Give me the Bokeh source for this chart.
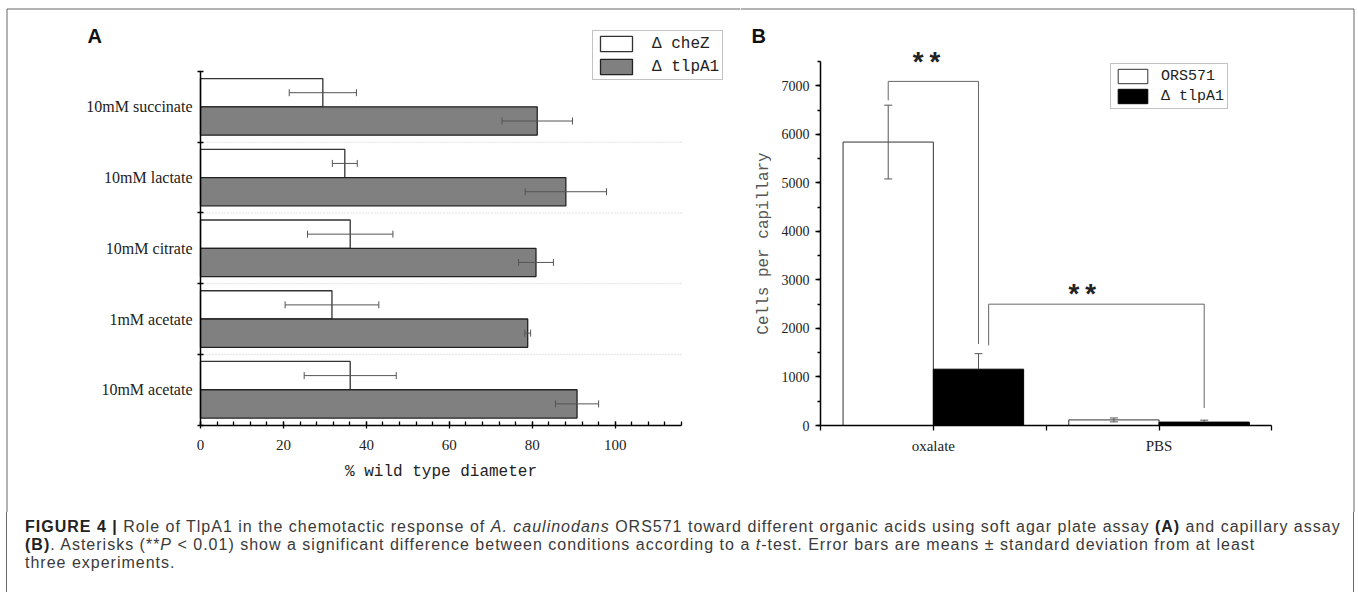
import numpy as np
from bokeh.plotting import figure
from bokeh.models import (ColumnDataSource, Whisker, TeeHead, FixedTicker, SingleIntervalTicker,
                          Legend, LegendItem, Label, Div, Range1d, Span)
from bokeh.layouts import column, row
from bokeh.embed import file_html
from bokeh.resources import INLINE

# ---------------- Panel A data (soft agar plate assay) ----------------
cats_a = ["10mM succinate", "10mM lactate", "10mM citrate", "1mM acetate", "10mM acetate"]
chez = [29.5, 34.8, 36.1, 31.7, 36.1]
chez_sd = [8.1, 3.0, 10.3, 11.3, 11.1]
tlpa1_a = [81.2, 88.1, 80.9, 78.9, 90.8]
tlpa1_a_sd = [8.5, 9.8, 4.2, 0.7, 5.2]
series_a = ["\u0394 cheZ", "\u0394 tlpA1"]
xmax_a = 116

# ---------------- Panel B data (capillary assay) ----------------
cats_b = ["oxalate", "PBS"]
ors571 = [5840, 115]
ors571_sd = [760, 40]
tlpa1_b = [1160, 70]
tlpa1_b_sd = [320, 40]
series_b = ["ORS571", "\u0394 tlpA1"]
ymax_b = 7500

SERIF = "Liberation Serif"
MONO = "Liberation Mono"
EB = "#555555"
FRAME = "#666666"

# panel geometry (pixels) used to set up the data ranges
H = 512                      # figure height
WA, WB = 740, 615            # figure widths
A_X0, A_PXU = 200, 4.147     # pixel of x=0, px per unit (panel A)
A_Y0, A_PYU = 424.6, 70.72   # pixel of y=0, px per unit
B_X0, B_PXU = 80, 225.7      # within panel B
B_Y0, B_PYU = 425, 0.048533

# =============================== Panel A ===============================
n = len(cats_a)
centers = [n - 1 - i + 0.5 for i in range(n)]
srcA = ColumnDataSource(dict(
    yc=[c + 0.2 for c in centers], yt=[c - 0.2 for c in centers],
    chez=chez, chez_lo=[v - s for v, s in zip(chez, chez_sd)], chez_hi=[v + s for v, s in zip(chez, chez_sd)],
    tl=tlpa1_a, tl_lo=[v - s for v, s in zip(tlpa1_a, tlpa1_a_sd)], tl_hi=[v + s for v, s in zip(tlpa1_a, tlpa1_a_sd)],
))

axA_x = (-A_X0 / A_PXU, (WA - A_X0) / A_PXU)
axA_y = (-(H - A_Y0) / A_PYU, A_Y0 / A_PYU)
pA = figure(width=WA, height=H, x_range=Range1d(*axA_x), y_range=Range1d(*axA_y),
            output_backend="svg", toolbar_location=None,
            min_border_left=0, min_border_right=0, min_border_top=0, min_border_bottom=0)
pA.outline_line_color = None
pA.grid.visible = False

# dotted separators between the categories
seps = list(range(1, n))
pA.segment(x0=[0] * len(seps), x1=[xmax_a] * len(seps), y0=seps, y1=seps,
           line_color="#c4c4c4", line_dash="1 2", line_width=1)

rwA = pA.hbar(y="yc", left=0, right="chez", height=0.4, fill_color="white",
              line_color="#333333", line_width=1.3, source=srcA)
rgA = pA.hbar(y="yt", left=0, right="tl", height=0.4, fill_color="#808080",
              line_color="#222222", line_width=1.3, source=srcA)

for base, lo, hi in (("yc", "chez_lo", "chez_hi"), ("yt", "tl_lo", "tl_hi")):
    pA.add_layout(Whisker(source=srcA, base=base, lower=lo, upper=hi, dimension="width",
                          line_color=EB, line_width=1, level="annotation",
                          lower_head=TeeHead(size=7, line_color=EB, line_width=1),
                          upper_head=TeeHead(size=7, line_color=EB, line_width=1)))

xa = pA.xaxis[0]
xa.fixed_location = 0
xa.bounds = (0, xmax_a)
xa.ticker = SingleIntervalTicker(interval=20, num_minor_ticks=5)
xa.axis_line_width = 1.5
xa.major_tick_in = 4
xa.major_tick_out = 3
xa.minor_tick_in = 4
xa.minor_tick_out = 0
xa.major_tick_line_width = 1.3
xa.minor_tick_line_width = 1.3
xa.major_label_text_font = SERIF
xa.major_label_text_font_size = "15px"
xa.major_label_text_color = "#222222"
xa.major_label_standoff = 12
xa.axis_label = "% wild type diameter"
xa.axis_label_text_font = MONO
xa.axis_label_text_font_size = "16px"
xa.axis_label_text_font_style = "normal"
xa.axis_label_text_color = "#222222"
xa.axis_label_standoff = 9

ya = pA.yaxis[0]
ya.fixed_location = 0
ya.bounds = (0, n)
ya.ticker = FixedTicker(ticks=centers, minor_ticks=list(range(n + 1)))
ya.major_label_overrides = {c: name for c, name in zip(centers, cats_a)}
ya.axis_line_width = 1.5
ya.major_tick_in = 0
ya.major_tick_out = 0
ya.minor_tick_in = 3
ya.minor_tick_out = 3
ya.minor_tick_line_width = 1.5
ya.major_label_text_font = SERIF
ya.major_label_text_font_size = "16px"
ya.major_label_text_color = "#222222"
ya.major_label_standoff = 5

# legend: location = offset of its bottom-left corner from the frame's bottom-left
legA = Legend(items=[LegendItem(label=series_a[0], renderers=[rwA]),
                     LegendItem(label=series_a[1], renderers=[rgA])],
              location=(592, H - 80), orientation="vertical",
              glyph_width=40, glyph_height=19, label_height=19, spacing=4, padding=3,
              margin=0, label_standoff=16, border_line_color="#888888", border_line_width=1,
              label_text_font=MONO, label_text_font_size="16px", label_text_color="#222222",
              background_fill_color="white", background_fill_alpha=1)
pA.add_layout(legA)

pA.add_layout(Label(x=(87 - A_X0) / A_PXU, y=(A_Y0 - 35) / A_PYU, text="A",
                    text_font="Liberation Sans", text_font_style="bold",
                    text_font_size="20px", text_align="left", text_baseline="alphabetic",
                    text_color="#111111"))

# figure frame: top edge (from the left edge on) and left edge
top_a = (A_Y0 - 8.5) / A_PYU
left_a = (6.5 - A_X0) / A_PXU
pA.segment(x0=[left_a], x1=[axA_x[1]], y0=[top_a], y1=[top_a], line_color=FRAME, line_width=1)
pA.segment(x0=[left_a], x1=[left_a], y0=[axA_y[0]], y1=[top_a], line_color=FRAME, line_width=1)

# =============================== Panel B ===============================
m = len(cats_b)
xcent = [j + 0.5 for j in range(m)]
srcB = ColumnDataSource(dict(
    xo=[x - 0.2 for x in xcent], xt=[x + 0.2 for x in xcent],
    ors=ors571, ors_lo=[v - s for v, s in zip(ors571, ors571_sd)], ors_hi=[v + s for v, s in zip(ors571, ors571_sd)],
    tl=tlpa1_b, tl_hi=[v + s for v, s in zip(tlpa1_b, tlpa1_b_sd)],
))

axB_x = (-B_X0 / B_PXU, (WB - B_X0) / B_PXU)
axB_y = (-(H - B_Y0) / B_PYU, B_Y0 / B_PYU)
pB = figure(width=WB, height=H, x_range=Range1d(*axB_x), y_range=Range1d(*axB_y),
            output_backend="svg", toolbar_location=None,
            min_border_left=0, min_border_right=0, min_border_top=0, min_border_bottom=0)
pB.outline_line_color = None
pB.grid.visible = False

rwB = pB.vbar(x="xo", bottom=0, top="ors", width=0.4, fill_color="white",
              line_color="#333333", line_width=1, source=srcB)
rbB = pB.vbar(x="xt", bottom=0, top="tl", width=0.4, fill_color="black",
              line_color="black", line_width=1, source=srcB)

pB.add_layout(Whisker(source=srcB, base="xo", lower="ors_lo", upper="ors_hi", dimension="height",
                      line_color=EB, line_width=1, level="annotation",
                      lower_head=TeeHead(size=8, line_color=EB, line_width=1),
                      upper_head=TeeHead(size=8, line_color=EB, line_width=1)))
pB.add_layout(Whisker(source=srcB, base="xt", lower="tl", upper="tl_hi", dimension="height",
                      line_color=EB, line_width=1, level="annotation",
                      lower_head=None,
                      upper_head=TeeHead(size=8, line_color=EB, line_width=1)))

# significance brackets (anchored on the bars they compare)
xo, xt = srcB.data["xo"], srcB.data["xt"]
ors_hi, tl_hi = srcB.data["ors_hi"], srcB.data["tl_hi"]
br_xs = [[xo[0], xo[0], xt[0], xt[0]],
         [xt[0] + 0.045, xt[0] + 0.045, xt[1], xt[1]]]
br_ys = [[ors_hi[0] + 100, 7090, 7090, tl_hi[0] + 200],
         [tl_hi[0] + 170, 2500, 2500, tl_hi[1] + 250]]
pB.multi_line(xs=br_xs, ys=br_ys, line_color="#666666", line_width=1)

for sx, sy in ((0.47, 7436), (1.16, 2666)):
    pB.add_layout(Label(x=sx, y=sy, text="**", text_font=MONO, text_font_size="28px",
                        text_font_style="bold", text_align="center", text_baseline="middle",
                        text_color="#222222"))

xb = pB.xaxis[0]
xb.fixed_location = 0
xb.bounds = (0, m)
xb.ticker = FixedTicker(ticks=xcent, minor_ticks=list(range(m + 1)))
xb.major_label_overrides = {c: name for c, name in zip(xcent, cats_b)}
xb.axis_line_width = 1.5
xb.major_tick_in = 0
xb.major_tick_out = 5
xb.minor_tick_in = 0
xb.minor_tick_out = 5
xb.major_tick_line_width = 1.3
xb.minor_tick_line_width = 1.3
xb.major_label_text_font = SERIF
xb.major_label_text_font_size = "15px"
xb.major_label_text_color = "#222222"
xb.major_label_standoff = 7

yb = pB.yaxis[0]
yb.fixed_location = 0
yb.bounds = (0, ymax_b)
yb.ticker = SingleIntervalTicker(interval=1000, num_minor_ticks=2)
yb.axis_line_width = 1.5
yb.major_tick_in = 0
yb.major_tick_out = 5
yb.minor_tick_in = 0
yb.minor_tick_out = 3
yb.major_tick_line_width = 1.3
yb.minor_tick_line_width = 1.3
yb.major_label_text_font = SERIF
yb.major_label_text_font_size = "14px"
yb.major_label_text_color = "#222222"
yb.major_label_standoff = 6
yb.axis_label = "Cells per capillary"
yb.axis_label_text_font = MONO
yb.axis_label_text_font_size = "16px"
yb.axis_label_text_font_style = "normal"
yb.axis_label_text_color = "#555555"
yb.axis_label_standoff = 6

legB = Legend(items=[LegendItem(label=series_b[0], renderers=[rwB]),
                     LegendItem(label=series_b[1], renderers=[rbB])],
              location=(370, H - 109), orientation="vertical",
              glyph_width=37, glyph_height=18, label_height=18, spacing=2, padding=3,
              margin=0, label_standoff=10, border_line_color="#888888", border_line_width=1,
              label_text_font=MONO, label_text_font_size="15px", label_text_color="#222222",
              background_fill_color="white", background_fill_alpha=1)
pB.add_layout(legB)

pB.add_layout(Label(x=(751 - WA - B_X0) / B_PXU, y=(B_Y0 - 35) / B_PYU, text="B",
                    text_font="Liberation Sans", text_font_style="bold",
                    text_font_size="20px", text_align="left", text_baseline="alphabetic",
                    text_color="#111111"))

# figure frame: top edge and right edge
top_b = (B_Y0 - 8.5) / B_PYU
right_b = (1353.5 - WA - B_X0) / B_PXU
pB.segment(x0=[axB_x[0]], x1=[right_b], y0=[top_b], y1=[top_b], line_color=FRAME, line_width=1)
pB.segment(x0=[right_b], x1=[right_b], y0=[axB_y[0]], y1=[top_b], line_color=FRAME, line_width=1)

# =============================== Caption ===============================
caption_html = (
    '<div style="box-sizing:border-box;margin-left:6px;width:1348px;height:80px;'
    'border-left:1px solid %s;border-right:1px solid %s;'
    'font-family:\'Liberation Sans\',Arial,sans-serif;font-size:16px;line-height:18px;'
    'letter-spacing:1px;color:#3a3a3a;padding-left:18px;padding-top:6px;white-space:nowrap;">'
    '<b style="color:#222">FIGURE 4 |</b> Role of TlpA1 in the chemotactic response of '
    '<i>A. caulinodans</i> ORS571 toward different organic acids using soft agar plate assay '
    '<b style="color:#222">(A)</b> and capillary assay<br>'
    '<b style="color:#222">(B)</b>. Asterisks (**<i>P</i> &lt; 0.01) show a significant difference '
    'between conditions according to a <i>t</i>-test. Error bars are means \u00b1 standard deviation '
    'from at least<br>three experiments.</div>'
) % (FRAME, FRAME)
cap = Div(text=caption_html, width=WA + WB, height=80, margin=0)

lay = column(row(pA, pB), cap)

open("out.html", "w").write(file_html(lay, INLINE))
